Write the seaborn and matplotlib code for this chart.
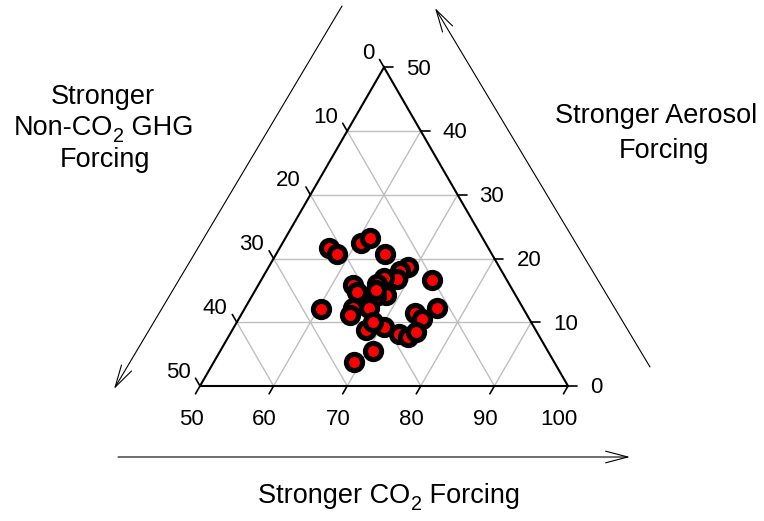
import numpy as np
import pandas as pd
import matplotlib
matplotlib.use("Agg")
import matplotlib.pyplot as plt
import seaborn as sns

# ---- data (percent shares) ----
co2 = [56.7, 58.3, 60.6, 61.5, 64.8, 68.9, 68.2, 68.3, 66.5, 66.1, 62.8,
       64.0, 68.2, 66.9, 73.2, 60.4, 64.7, 66.8, 64.8, 73.4, 74.9, 76.1,
       68.1, 70.3, 68.4, 72.9, 74.4, 75.1, 70.7, 69.1, 66.4]
aerosol = [21.6, 20.7, 22.5, 23.2, 20.7, 18.7, 18.0, 16.8, 16.9, 16.0, 15.9,
           14.7, 14.2, 14.1, 16.7, 12.1, 12.3, 12.3, 11.1, 11.5, 10.5, 12.2,
           8.8, 9.3, 10.1, 8.2, 7.7, 8.4, 5.5, 3.7, 15.1]
non_co2 = [21.7, 21.0, 16.9, 15.3, 14.5, 12.4, 13.8, 14.9, 16.6, 17.9, 21.3,
           21.3, 17.6, 19.0, 10.1, 27.5, 23.0, 20.9, 24.1, 15.1, 14.6, 11.7,
           23.1, 20.4, 21.5, 18.9, 17.9, 16.5, 23.8, 27.2, 18.5]

co2_ticks = [50, 60, 70, 80, 90, 100]
non_co2_ticks = [0, 10, 20, 30, 40, 50]
aerosol_ticks = [0, 10, 20, 30, 40, 50]

# title pieces: (text, is_subscript)
title_left = [[("Stronger", False)],
              [("Non-CO", False), ("2", True), (" GHG", False)],
              [("Forcing", False)]]
title_right = [[("Stronger Aerosol", False)], [("Forcing", False)]]
title_bottom = [("Stronger CO", False), ("2", True), (" Forcing", False)]

# ---- style ----
sns.set_theme(style="white")
plt.rcParams['font.family'] = ['Liberation Sans', 'DejaVu Sans']

W, Hpx = 764, 521
fig = plt.figure(figsize=(W / 100, Hpx / 100), dpi=100)
ax = fig.add_axes([0, 0, 1, 1])

S = np.sqrt(3) / 2
PX = 368 / 50.0          # pixels per percent unit
x0 = 50 - 200 / PX
y0 = -(Hpx - 386) / PX
ax.set_xlim(x0, x0 + W / PX)
ax.set_ylim(y0, y0 + Hpx / PX)
ax.axis('off')


def to_xy(c, a):
    c = np.asarray(c, float)
    a = np.asarray(a, float)
    return c + 0.5 * a, S * a


# grid lines
grid_kw = dict(color='#BEBEBE', lw=1.0, zorder=1)
for v in [10, 20, 30, 40]:
    xs, ys = to_xy([50, 100 - v], [v, v])
    ax.plot(xs, ys, **grid_kw)
    xs, ys = to_xy([50 + v, 50 + v], [0, 50 - v])
    ax.plot(xs, ys, **grid_kw)
    xs, ys = to_xy([100 - v, 50], [0, 50 - v])
    ax.plot(xs, ys, **grid_kw)

# triangle
xs, ys = to_xy([50, 100, 50, 50], [0, 0, 50, 0])
ax.plot(xs, ys, color='black', lw=1.5, zorder=2, solid_joinstyle='miter')

# ticks and labels
tl = 9 / PX
lab_kw = dict(fontsize=16, color='black', textcoords='offset pixels',
              va='baseline', annotation_clip=False)
for c in co2_ticks:
    px_, py_ = to_xy(c, 0)
    ax.plot([px_, px_ - 0.5 * tl], [py_, py_ - S * tl], color='black', lw=1.2, zorder=2)
    ax.annotate(str(c), (px_, py_), xytext=(-9, -39), ha='center', **lab_kw)
for a in aerosol_ticks:
    px_, py_ = to_xy(100 - a, a)
    ax.plot([px_, px_ + tl], [py_, py_], color='black', lw=1.2, zorder=2)
    ax.annotate(str(a), (px_, py_), xytext=(22, -7.3), ha='left', **lab_kw)
for n in non_co2_ticks:
    px_, py_ = to_xy(50, 50 - n)
    ax.plot([px_, px_ - 0.5 * tl], [py_, py_ + S * tl], color='black', lw=1.2, zorder=2)
    ax.annotate(str(n), (px_, py_), xytext=(-9.5, 8.5), ha='right', **lab_kw)

# points
df = pd.DataFrame({'co2': co2, 'aerosol': aerosol, 'non_co2': non_co2})
tot = df['co2'] + df['aerosol'] + df['non_co2']
df['x'], df['y'] = to_xy(df['co2'] * 100 / tot, df['aerosol'] * 100 / tot)
sns.scatterplot(data=df, x='x', y='y', ax=ax, s=135, color='red',
                edgecolor='black', linewidth=3.7, legend=False, zorder=5)
ax.set_xlabel('')
ax.set_ylabel('')
ax.axis('off')


# arrows (figure pixel coords, origin bottom-left)
def fp(x, y):
    return (x, Hpx - y)


arrow_kw = dict(arrowstyle='->,head_length=1.6,head_width=0.42', lw=0.8,
                color='black', shrinkA=0, shrinkB=0, mutation_scale=10)
ax.annotate('', xy=fp(114, 389), xytext=fp(342, 6), xycoords='figure pixels',
            textcoords='figure pixels', arrowprops=arrow_kw)
ax.annotate('', xy=fp(435, 8), xytext=fp(650, 367), xycoords='figure pixels',
            textcoords='figure pixels', arrowprops=arrow_kw)
ax.annotate('', xy=fp(630, 457), xytext=fp(118, 457), xycoords='figure pixels',
            textcoords='figure pixels', arrowprops=arrow_kw)

# titles with true sub-scripts built from pieces
renderer = fig.canvas.get_renderer()
FS = 19.5
SUB_FS = 14.2
SUB_DROP = 6.7


def rich_line(pieces, xc, yb):
    texts = []
    widths = []
    for s, sub in pieces:
        t = fig.text(0, 0, s, fontsize=SUB_FS if sub else FS,
                     ha='left', va='baseline', color='black')
        w = t.get_window_extent(renderer).width
        texts.append((t, sub))
        widths.append(w)
    total = sum(widths)
    x = xc - total / 2
    for (t, sub), w in zip(texts, widths):
        y = yb + (SUB_DROP if sub else 0)
        t.set_position((x / W, 1 - y / Hpx))
        x += w


for pieces, (x, y) in zip(title_left, [(103.3, 104.3), (103.3, 135), (105, 167.3)]):
    rich_line(pieces, x, y)
for pieces, (x, y) in zip(title_right, [(655.8, 123.3), (664, 158.3)]):
    rich_line(pieces, x, y)
rich_line(title_bottom, 389, 503)

fig.savefig('out.png', dpi=100)
